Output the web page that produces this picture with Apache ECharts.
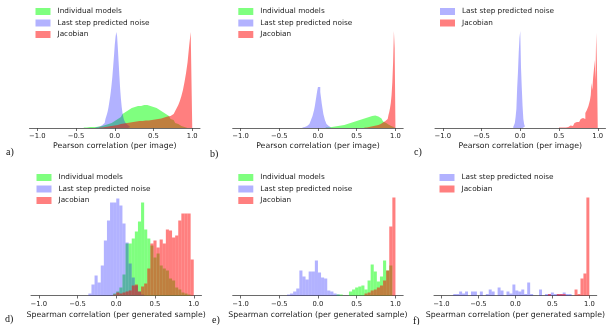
<!DOCTYPE html>
<html>
<head>
<meta charset="utf-8">
<script src="https://cdn.jsdelivr.net/npm/echarts@6/dist/echarts.min.js"></script>
<style>
  html, body { margin: 0; background: #fff; }
  #chart { width: 607px; height: 325px; }
</style>
</head>
<body>
<div id="chart"></div>
<script>
// histogram counts; each list starts at the given bin edge
const tickValues = [-1, -0.5, 0, 0.5, 1];
const names = ['Individual models', 'Last step predicted noise', 'Jacobian'];

// a) Pearson, per image
const aGreenStart = -0.40, aGreenW = 0.02;
const aGreen = [0.5,0.5,0.5,1,1,1,1,1,1.5,1.5, 2,2,2.5,3,3,4,4,5,6,7, 8,9,10,11,13,14,16,17,18,19,
  20,20,21,21,22,22,22,23,23,23, 23,22,22,22,21,21,20,19,18,17, 16,15,14,13,12,10,9,8,6,5, 4,3,2,1.5,1,0.5,0.5];
const aBlueStart = -0.25, aBlueW = 0.01;
const aBlue = [0.5,0.5,1,1,1,1.5,2,2,3,3, 4,5,7,9,11,14,17,21,26,31, 37,44,52,62,72,83,91,96,92,80,
  66,52,39,29,21,15,11,8,6,5, 4,3,2,2,1,1];
const aRedStart = -0.20, aRedW = 0.02;
const aRed = [0.5,0.5,1,1,1,1.5,1.5,2,2,2.5, 3,3,3.5,4,4,4.5,5,5,5.5,5.5, 6,6,6,6.5,6.5,7,7,7,7,7.5,
  7.5,7.5,8,8,8,8.5,8.5,9,9,9.5, 10,10.5,11,11.5,12,12,13,14,15,17, 20,23,27,32,38,46,55,66,82,96];

// b)
const bGreenStart = 0.10, bGreenW = 0.02;
const bGreen = [0.5,0.5,1,1,1,1.5,1.5,2,2,2.5, 3,3,3.5,4,4.5,5,5.5,6,6.5,7, 7.5,8,8.5,9,9.5,10,10.5,11,11.5,12,
  12,12.5,12,11.5,10.5,9.5,8,6.5,5,4, 3,2,1.5,1,0.5];
const bBlueStart = -0.20, bBlueW = 0.01;
const bBlue = [0.5,0.5,1,1,1.5,2,2.5,3,4,5, 6,8,10,12,15,18,22,27,32,37, 41,43,41,36,30,24,19,14,11,8, 6,4,3,2,1.5,1,0.5,0.5];
const bRedStart = 0.60, bRedW = 0.01;
const bRed = [0.5,0.5,0.5,1,1,1,1,1,1.5,1.5, 1.5,2,2,2,2.5,2.5,3,3,3.5,3.5, 4,4.5,5,5.5,6,6.5,7,7.5,8,9,
  11,13,16,20,25,33,46,66,97,80];

// c)
const cBlueStart = -0.09, cBlueW = 0.01;
const cBlue = [1,2,5,11,19,40,55,75,90,97,60,40,22,9,4,1.5,0.5];
const cRedStart = 0.50, cRedW = 0.01;
const cRed = [0.5,0,0.5,0,1,0.5,1,1.5,0.5,1, 2,1,2,1.5,2.5,2,3,2,3.5,2.5, 5,4,6,5,7,6,8,7,9,8,
  10,8,12,9,15,13,18,16,22,20, 28,33,45,38,50,58,68,48,95,62];

// d) Spearman, per generated sample (bins of 0.04)
const dBlueStart = -0.36;
const dBlue = [2,11,20,13,30,55,75,93,93,97,90,72,53,32,18,10,4,1];
const dGreenStart = -0.04;
const dGreen = [2,4,8,21,52,52,57,64,74,93,66,57,50,38,42,30,27,25,17,15,8,6,3,2,1];
const dRedStart = -0.04;
const dRed = [1,3,2,3,4,5,10,11,4,9,12,27,52,55,48,56,52,66,65,58,60,75,82,82,82,36];

// e)
const eGreenStart = 0.24;
const eGreen = [1,1,0,0,4,6,8,9,10,6,15,31,24,14,19,35,25,30];
const eBlueStart = -0.40;
const eBlue = [1,2,4,7,25,19,16,24,24,35,23,18,17,5,4,2,1];
const eRedStart = 0.60;
const eRed = [2,3,5,6,8,10,15,25,69,98];

// f)
const fBlueStart = -0.84;
const fBlue = [1.5,1.5,4,2,4,0,4,4,0,4, 0,1.5,6,4,0,8,5,0,4,2, 11,5,4,6,1.5,13,1.5,0,0,6, 0,1.5,1.5,3,1.5,1.5,1.5,3,1.5,1.5];
const fRedStart = 0.44;
const fRed = [1.5,0,0,1.5,1.5,1.5,0,0,0,6,1.5,17,22,98];
const coarseW = 0.04;

const GREEN = 'rgba(0,255,0,0.5)';
const BLUE = 'rgba(0,0,255,0.3)';
const RED = 'rgba(255,0,0,0.5)';
const FONT = 'DejaVu Sans';

// step outline for the fine histograms (no seams between thin bins)
function stepData(start, w, counts) {
  const pts = counts.map((c, i) => [+(start + i * w).toFixed(4), c]);
  pts.push([+(start + counts.length * w).toFixed(4), 0]);
  return pts;
}
function binData(start, w, counts) {
  const out = [];
  counts.forEach((c, i) => {
    if (c > 0) out.push([+(start + i * w).toFixed(4), +(start + (i + 1) * w).toFixed(4), c]);
  });
  return out;
}

function renderBin(params, api) {
  const top = api.coord([api.value(0), api.value(2)]);
  const base = api.coord([api.value(1), 0]);
  return {
    type: 'rect',
    shape: { x: top[0], y: top[1], width: base[0] - top[0], height: base[1] - top[1] },
    style: { fill: api.visual('color') }
  };
}

function stepSeries(name, color, idx, start, w, counts) {
  return {
    type: 'line', name: name, xAxisIndex: idx, yAxisIndex: idx,
    step: 'end', symbol: 'none', silent: true,
    itemStyle: { color: color },
    lineStyle: { width: 0, opacity: 0 },
    areaStyle: { color: color, opacity: 1 },
    data: stepData(start, w, counts)
  };
}
function barSeries(name, color, idx, start, counts) {
  return {
    type: 'custom', name: name, xAxisIndex: idx, yAxisIndex: idx,
    silent: true,
    itemStyle: { color: color },
    renderItem: renderBin,
    encode: { x: [0, 1], y: 2 },
    data: binData(start, coarseW, counts)
  };
}

// plot boxes: [left, top] ; each 170.5 wide, 100 tall
const boxes = [[29.5, 28], [232.7, 28], [435, 28], [31, 195.5], [232.7, 195.5], [434, 195.5]];
const axisTitles = ['Pearson correlation (per image)', 'Spearman correlation (per generated sample)'];

const grids = boxes.map(b => ({ left: b[0], top: b[1], width: 170.5, height: 100 }));
const fmt = v => (v < 0 ? '\u2212' : '') + Math.abs(v).toFixed(1);
const xAxes = boxes.map((b, i) => ({
  type: 'value', gridIndex: i, min: -1.1, max: 1.1,
  name: axisTitles[i < 3 ? 0 : 1], nameLocation: 'middle', nameGap: i < 3 ? 14 : 15,
  nameTextStyle: { fontFamily: FONT, fontSize: 7.8, color: '#222' },
  axisLine: { show: true, lineStyle: { color: '#444', width: 0.8 } },
  axisTick: { show: true, length: 3, lineStyle: { color: '#444', width: 0.8 }, customValues: tickValues },
  axisLabel: { fontFamily: FONT, fontSize: 6.8, color: '#222', margin: 5, customValues: tickValues, formatter: fmt },
  splitLine: { show: false }
}));
const yAxes = boxes.map((b, i) => ({ type: 'value', gridIndex: i, min: 0, max: 100, show: false }));

const series = [
  stepSeries(names[0], GREEN, 0, aGreenStart, aGreenW, aGreen),
  stepSeries(names[1], BLUE, 0, aBlueStart, aBlueW, aBlue),
  stepSeries(names[2], RED, 0, aRedStart, aRedW, aRed),
  stepSeries(names[0], GREEN, 1, bGreenStart, bGreenW, bGreen),
  stepSeries(names[1], BLUE, 1, bBlueStart, bBlueW, bBlue),
  stepSeries(names[2], RED, 1, bRedStart, bRedW, bRed),
  stepSeries(names[1], BLUE, 2, cBlueStart, cBlueW, cBlue),
  stepSeries(names[2], RED, 2, cRedStart, cRedW, cRed),
  barSeries(names[0], GREEN, 3, dGreenStart, dGreen),
  barSeries(names[1], BLUE, 3, dBlueStart, dBlue),
  barSeries(names[2], RED, 3, dRedStart, dRed),
  barSeries(names[0], GREEN, 4, eGreenStart, eGreen),
  barSeries(names[1], BLUE, 4, eBlueStart, eBlue),
  barSeries(names[2], RED, 4, eRedStart, eRed),
  barSeries(names[1], BLUE, 5, fBlueStart, fBlue),
  barSeries(names[2], RED, 5, fRedStart, fRed)
];

function legendAt(left, top, items) {
  return {
    left: left, top: top, orient: 'vertical', padding: 0,
    icon: 'rect', itemWidth: 15, itemHeight: 7, itemGap: 3.5,
    selectedMode: false,
    textStyle: { fontFamily: FONT, fontSize: 7.3, color: '#222', lineHeight: 8, padding: [0, 0, 0, 2] },
    data: items
  };
}
const legends = [
  legendAt(35.5, 7.5, names), legendAt(238.3, 7.5, names), legendAt(440, 7.5, names.slice(1)),
  legendAt(36.5, 173.5, names), legendAt(238.3, 173.5, names), legendAt(439.5, 173.5, names.slice(1))
];

const panelLabels = ['a)', 'b)', 'c)', 'd)', 'e)', 'f)'];
const labelPos = [[6, 153], [210, 155], [414, 153], [5, 320], [212, 321], [413, 322]];
const graphics = panelLabels.map((t, i) => ({
  type: 'text', left: labelPos[i][0], top: labelPos[i][1] - 6,
  style: { text: t, font: '10px "Liberation Serif", serif', fill: '#111' }
}));

const chart = echarts.init(document.getElementById('chart'), null, { renderer: 'canvas' });
chart.setOption({
  animation: false,
  backgroundColor: '#fff',
  grid: grids,
  xAxis: xAxes,
  yAxis: yAxes,
  legend: legends,
  series: series,
  graphic: graphics
});
</script>
</body>
</html>
